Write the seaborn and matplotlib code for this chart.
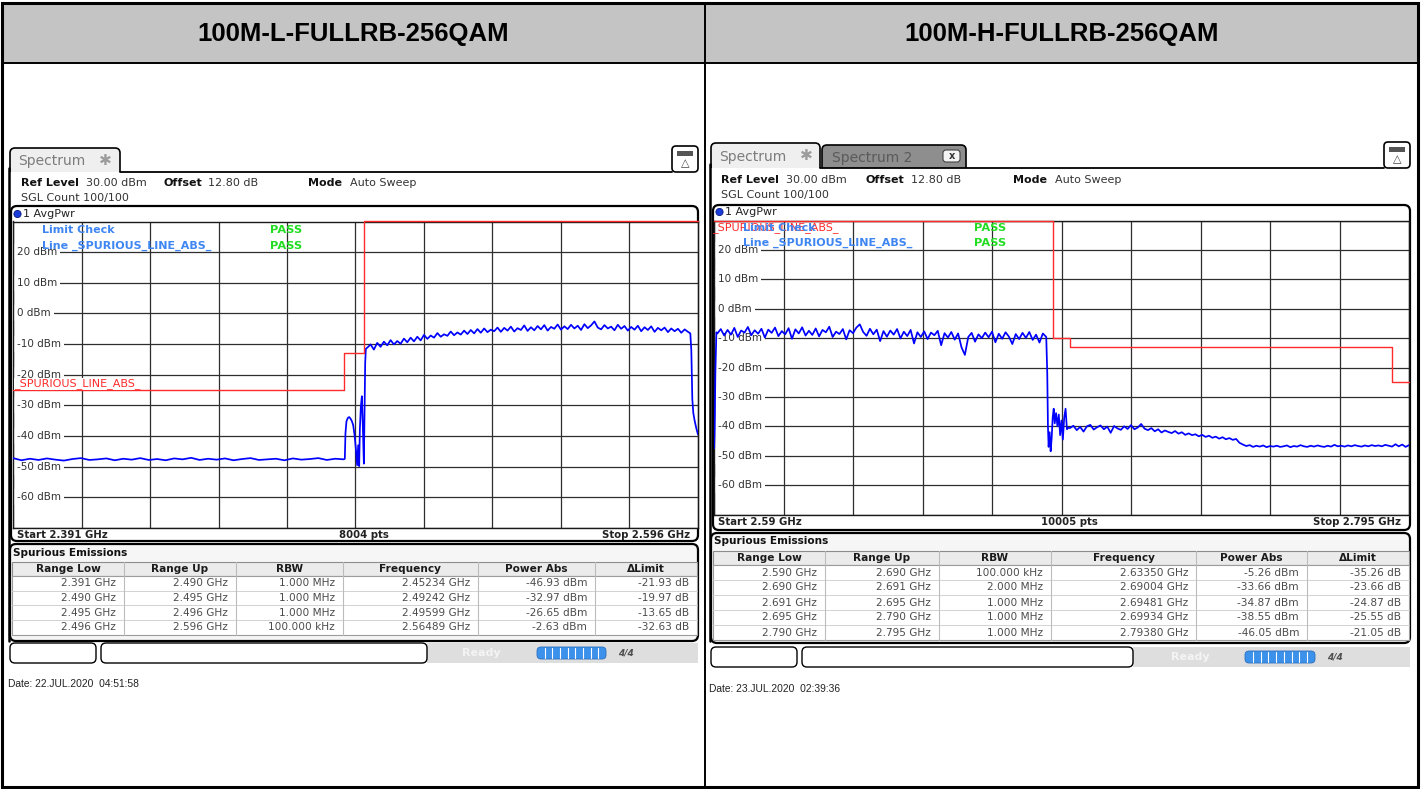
"""
Capturas de analizador de espectro (emisiones espurias, 100M FULLRB 256QAM)
Dos paneles lado a lado dentro de una tabla con cabecera gris.
"""

import matplotlib
matplotlib.use("Agg")

import matplotlib.pyplot as plt
import matplotlib.transforms as mtransforms
import numpy as np
import pandas as pd
import seaborn as sns
from matplotlib.patches import Circle, FancyBboxPatch, Rectangle

# ============================================================
# DATOS
# ============================================================
TITLES = ["100M-L-FULLRB-256QAM", "100M-H-FULLRB-256QAM"]
HEADERS = ["Range Low", "Range Up", "RBW", "Frequency", "Power Abs", "ΔLimit"]

# ---------- panel izquierdo (L) ----------
l_span = (2.391, 2.596)
l_pts = "8004 pts"
l_floor_span = (2.391, 2.490)
l_floor_lvl = [-47.2, -47.9, -47.4, -47.8, -47.3, -47.7, -48.0, -47.5, -47.2, -47.8,
               -47.6, -47.3, -47.9, -47.4, -47.7, -47.2, -47.8, -47.5, -47.9, -47.3,
               -47.6, -47.1, -47.8, -47.4, -47.7, -47.3, -47.9, -47.5, -47.2, -47.8,
               -47.6, -47.4, -47.9, -47.3, -47.7, -47.5, -47.2, -47.8, -47.4, -47.6]
l_edge_f = [2.4903, 2.4905, 2.4908, 2.4912, 2.4916, 2.4920, 2.4924, 2.4928, 2.4932, 2.4936,
            2.4940, 2.4943, 2.4946, 2.4948, 2.4951, 2.4954, 2.4957, 2.4960, 2.4962, 2.4964, 2.4966]
l_edge_lvl = [-47.4, -39.0, -35.2, -34.1, -33.8, -34.3, -35.1, -36.4, -39.5, -44.0,
              -49.5, -43.0, -49.8, -38.0, -30.5, -27.0, -37.0, -49.0, -33.0, -16.0, -11.5]
l_band_span = (2.497, 2.593)
l_band_lvl = [-11.2, -10.1, -11.8, -9.6, -10.9, -9.2, -10.4, -8.7, -10.1, -9.0,
              -9.9, -8.2, -9.4, -7.9, -9.1, -7.6, -8.8, -7.0, -8.3, -7.2,
              -7.9, -6.4, -7.6, -6.8, -7.3, -5.9, -7.1, -6.2, -6.9, -5.6,
              -6.7, -5.4, -6.5, -5.1, -6.3, -4.9, -6.1, -5.3, -5.8, -4.6,
              -6.0, -4.7, -5.6, -4.3, -5.9, -4.8, -5.4, -3.9, -5.7, -4.5,
              -5.5, -4.1, -5.2, -3.8, -5.6, -4.4, -5.0, -3.6, -5.3, -4.2,
              -5.1, -3.7, -4.9, -4.0, -5.4, -3.5, -4.8, -3.9, -2.6, -4.6,
              -5.2, -3.8, -4.9, -4.3, -5.5, -3.7, -5.0, -4.1, -5.6, -4.4,
              -5.3, -4.0, -5.8, -4.5, -5.4, -4.2, -6.0, -4.7, -5.5, -4.6,
              -6.1, -4.9, -5.8, -5.0, -6.3, -5.2, -6.0]
l_tail_f = [2.5937, 2.5940, 2.5943, 2.5946, 2.5950, 2.5955, 2.5960]
l_tail_lvl = [-6.5, -12.0, -28.0, -32.5, -35.0, -37.5, -39.5]
l_lim_f = [2.391, 2.490, 2.496, 2.596]
l_lim_lvl = [-25, -13, 30, 30]
l_range_low = [2.391, 2.490, 2.495, 2.496]
l_range_up = [2.490, 2.495, 2.496, 2.596]
l_rbw = ["1.000 MHz", "1.000 MHz", "1.000 MHz", "100.000 kHz"]
l_peak_f = [2.45234, 2.49242, 2.49599, 2.56489]
l_power = [-46.93, -32.97, -26.65, -2.63]
l_delta = [-21.93, -19.97, -13.65, -32.63]
l_date = "Date: 22.JUL.2020  04:51:58"

# ---------- panel derecho (H) ----------
r_span = (2.590, 2.795)
r_pts = "10005 pts"
r_head_f = [2.5900, 2.5902, 2.5904, 2.5907]
r_head_lvl = [-47.5, -41.0, -22.0, -8.0]
r_band_span = (2.591, 2.688)
r_band_lvl = [-8.4, -6.9, -9.1, -7.2, -8.8, -6.5, -9.6, -7.4, -8.1, -6.2,
              -9.0, -7.3, -8.5, -6.8, -9.8, -7.1, -8.2, -6.4, -9.3, -7.6,
              -8.7, -6.6, -10.2, -7.0, -8.4, -6.3, -9.1, -7.5, -8.9, -6.7,
              -9.4, -7.2, -8.0, -6.1, -9.6, -7.8, -8.6, -6.9, -10.4, -7.3,
              -8.3, -6.4, -5.3, -7.9, -9.2, -6.8, -8.7, -7.1, -11.0, -7.6,
              -9.5, -7.4, -8.8, -6.9, -10.1, -7.8, -9.3, -7.2, -11.8, -8.0,
              -9.6, -7.7, -10.3, -8.1, -9.0, -7.5, -12.4, -8.3, -9.8, -7.9,
              -10.5, -8.4, -13.1, -15.7, -9.6, -8.2, -11.2, -8.7, -10.0, -8.1,
              -9.7, -7.8, -11.4, -8.5, -10.2, -8.0, -9.5, -12.0, -8.6, -10.3,
              -8.2, -9.9, -7.9, -10.6, -8.8, -11.5, -8.4, -9.6]
r_drop_f = [2.6883, 2.6885, 2.6887, 2.6890, 2.6893, 2.6896, 2.6899, 2.6902, 2.6905, 2.6909,
            2.6913, 2.6917, 2.6921, 2.6925, 2.6929, 2.6933, 2.6937, 2.6941, 2.6945]
r_drop_lvl = [-22.0, -40.0, -47.0, -42.0, -48.5, -44.0, -37.0, -34.0, -39.0, -35.5,
              -40.0, -36.0, -43.0, -38.0, -44.5, -37.0, -34.0, -41.0, -40.5]
r_slope_span = (2.695, 2.745)
r_slope_lvl = [-40.6, -39.8, -41.3, -40.2, -41.8, -40.0, -39.5, -41.1, -40.3, -39.7,
               -41.0, -40.1, -42.2, -39.9, -40.7, -41.2, -40.0, -40.9, -39.6, -41.0,
               -40.4, -39.2, -40.8, -41.3, -40.6, -41.7, -41.0, -42.1, -41.4, -41.9,
               -42.3, -41.6, -42.5, -42.0, -42.9, -42.4, -43.0, -42.7, -43.4, -42.9,
               -43.6, -43.2, -43.9, -43.5, -44.2, -43.7, -44.4, -44.0, -44.6, -44.3,
               -45.6]
r_floor_span = (2.746, 2.795)
r_floor_lvl = [-46.2, -46.7, -46.4, -47.0, -46.6, -46.9, -46.5, -47.1, -46.7, -46.9,
               -46.6, -47.0, -46.8, -46.5, -47.1, -46.7, -46.9, -46.4, -46.8, -47.0,
               -46.6, -46.9, -46.5, -46.8, -47.0, -46.6, -46.9, -46.3, -46.8, -46.6,
               -46.9, -46.5, -46.8, -46.4, -46.7, -46.9, -46.5, -46.8, -46.4, -46.7,
               -46.5, -46.8, -46.3, -46.6, -46.9, -46.1, -46.8, -46.2, -47.0, -46.4]
r_lim_f = [2.590, 2.690, 2.695, 2.790, 2.795]
r_lim_lvl = [30, -10, -13, -25, -25]
r_range_low = [2.590, 2.690, 2.691, 2.695, 2.790]
r_range_up = [2.690, 2.691, 2.695, 2.790, 2.795]
r_rbw = ["100.000 kHz", "2.000 MHz", "1.000 MHz", "1.000 MHz", "1.000 MHz"]
r_peak_f = [2.63350, 2.69004, 2.69481, 2.69934, 2.79380]
r_power = [-5.26, -33.66, -34.87, -38.55, -46.05]
r_delta = [-35.26, -23.66, -24.87, -25.55, -21.05]
r_date = "Date: 23.JUL.2020  02:39:36"

# ============================================================
# CONFIGURACIÓN
# ============================================================
W, H = 1421, 789
sns.set_style("white")
plt.rcParams["font.family"] = ["DejaVu Sans"]

BLUE_TXT = "#3f86f2"
GREEN_TXT = "#22dd22"
RED = "#ff2b2b"

# Posiciones (en píxeles) de cada panel
LAYOUT = [
    dict(title_x=353, win_x0=9, tab=(10, 148, 120, 172), tab2=None, icon=(672, 146, 698, 172),
         info_y=183, sgl_y=198, info_x=[21, 86, 163, 208, 308, 350],
         frame=(11, 206, 698, 541), avg_y=214, grid=(13, 221.5, 698, 528), start_y=535,
         table=(10, 544, 698, 641), table_title_y=553, head_y=569, row_dy=14.7,
         cols=[12, 124, 236, 343, 478, 595, 697],
         status=(643, 663), box1=(10, 96), box2=(101, 427), ready_x=481, bar=(537, 606),
         mini_x=626, date=(8, 684), win_x1=698,
         lim_y=(230, 246), lim_x=42, pass_x=270, red_lbl=(14, 384)),
    dict(title_x=1062, win_x0=710, tab=(711, 143, 820, 168), tab2=(822, 145, 966, 168),
         icon=(1384, 142, 1410, 168),
         info_y=180, sgl_y=195, info_x=[721, 786, 865, 911, 1013, 1055],
         frame=(713, 205, 1410, 530), avg_y=212, grid=(714, 220.6, 1409, 514.5), start_y=522,
         table=(711, 533, 1410, 643), table_title_y=541, head_y=558, row_dy=15,
         cols=[713, 825, 939, 1051, 1196, 1307, 1409],
         status=(647, 667), box1=(711, 797), box2=(802, 1133), ready_x=1190, bar=(1245, 1315),
         mini_x=1335, date=(709, 689), win_x1=1410,
         lim_y=(228, 243), lim_x=743, pass_x=974, red_lbl=(712, 228)),
]


def rbox(ax, x0, y0, x1, y1, r=5, ec="black", fc="none", lw=1.0, z=1):
    """Rectángulo redondeado en coordenadas de píxel."""
    ax.add_patch(FancyBboxPatch((x0, y0), x1 - x0, y1 - y0,
                                boxstyle=f"round,pad=0,rounding_size={r}",
                                ec=ec, fc=fc, lw=lw, zorder=z))


def build_trace(parts):
    """Concatena tramos (frecuencias, niveles) en un DataFrame."""
    freqs, lvls = [], []
    for f, v in parts:
        freqs.extend(list(f))
        lvls.extend(list(v))
    return pd.DataFrame({"freq": freqs, "dbm": lvls})


def sweep(span, lvls):
    # puntos de barrido equiespaciados del analizador
    return np.linspace(span[0], span[1], len(lvls)), lvls


fig = plt.figure(figsize=(W / 100, H / 100), dpi=100)
bg = fig.add_axes([0, 0, 1, 1])
bg.set_xlim(0, W)
bg.set_ylim(H, 0)
bg.axis("off")
bg.set_zorder(0)

top = fig.add_axes([0, 0, 1, 1])
top.set_xlim(0, W)
top.set_ylim(H, 0)
top.axis("off")
top.set_zorder(3)
top.patch.set_alpha(0)

# Tabla exterior y cabecera
bg.add_patch(Rectangle((2, 3), 1416, 60, fc="#c4c4c4", ec="none", zorder=0.5))
bg.add_patch(Rectangle((2, 3), 1416, 784, fc="none", ec="black", lw=2.2, zorder=5))
bg.plot([2, 1418], [63, 63], color="black", lw=1.4, zorder=5)
bg.plot([705, 705], [3, 787], color="black", lw=1.4, zorder=5)

traces = [
    build_trace([sweep(l_floor_span, l_floor_lvl), (l_edge_f, l_edge_lvl),
                 sweep(l_band_span, l_band_lvl), (l_tail_f, l_tail_lvl)]),
    build_trace([(r_head_f, r_head_lvl), sweep(r_band_span, r_band_lvl), (r_drop_f, r_drop_lvl),
                 sweep(r_slope_span, r_slope_lvl), sweep(r_floor_span, r_floor_lvl)]),
]
limits = [pd.DataFrame({"freq": l_lim_f, "dbm": l_lim_lvl}),
          pd.DataFrame({"freq": r_lim_f, "dbm": r_lim_lvl})]
spans = [l_span, r_span]
pts = [l_pts, r_pts]
tables = [
    [[f"{v:.3f} GHz" for v in l_range_low], [f"{v:.3f} GHz" for v in l_range_up], l_rbw,
     [f"{v:.5f} GHz" for v in l_peak_f], [f"{v:.2f} dBm" for v in l_power], [f"{v:.2f} dB" for v in l_delta]],
    [[f"{v:.3f} GHz" for v in r_range_low], [f"{v:.3f} GHz" for v in r_range_up], r_rbw,
     [f"{v:.5f} GHz" for v in r_peak_f], [f"{v:.2f} dBm" for v in r_power], [f"{v:.2f} dB" for v in r_delta]],
]
dates = [l_date, r_date]

for k, p in enumerate(LAYOUT):
    # ---------- título de columna ----------
    bg.text(p["title_x"], 34, TITLES[k], ha="center", va="center", fontsize=18.5,
            fontweight="bold", family="Liberation Sans", color="black", zorder=6)

    # ---------- pestañas y ventana ----------
    tx0, ty0, tx1, ty1 = p["tab"]
    if p["tab2"] is not None:
        sx0, sy0, sx1, sy1 = p["tab2"]
        rbox(bg, sx0, sy0, sx1, sy1 + 8, r=5, fc="#8e8e8e", lw=1.2, z=1)
        bg.text(sx0 + 10, (sy0 + sy1) / 2 + 1, "Spectrum 2", fontsize=10, color="#5a5a5a",
                va="center", zorder=2)
        rbox(bg, sx1 - 23, sy0 + 5, sx1 - 6, sy1 - 6, r=3, fc="#f4f4f4", ec="#444444", lw=0.8, z=2)
        bg.text(sx1 - 14.5, (sy0 + sy1) / 2 - 0.5, "x", fontsize=7, ha="center", va="center",
                color="#333333", fontweight="bold", zorder=3)
    rbox(bg, tx0, ty0, tx1, ty1 + 8, r=5, fc="#efefef", lw=1.2, z=1.2)
    bg.add_patch(Rectangle((p["win_x0"] + 1, ty1), p["win_x1"] - p["win_x0"] - 1, 641 - ty1,
                           fc="white", ec="none", zorder=1.3))
    bg.plot([tx1, p["icon"][0]], [ty1, ty1], color="black", lw=1.3, zorder=1.4)
    bg.plot([p["win_x0"], p["win_x0"]], [ty1 - 4, 641], color="black", lw=1.8, zorder=1.4)
    bg.text(tx0 + 8, (ty0 + ty1) / 2 + 1, "Spectrum", fontsize=10, color="#7c7c7c", va="center", zorder=2)
    bg.text(tx0 + 95, (ty0 + ty1) / 2, "✱", fontsize=11, color="#9c9c9c", va="center",
            ha="center", zorder=2)
    ix0, iy0, ix1, iy1 = p["icon"]
    rbox(bg, ix0, iy0, ix1, iy1, r=4, fc="white", lw=1.2, z=2)
    bg.add_patch(Rectangle((ix0 + 5, iy0 + 5), ix1 - ix0 - 10, 5, fc="#555555", ec="none", zorder=2.1))
    bg.text((ix0 + ix1) / 2, iy0 + 17, "△", fontsize=8, ha="center", va="center", color="#444444", zorder=2.1)

    # ---------- línea de ajustes ----------
    xs = p["info_x"]
    y = p["info_y"]
    for x, s, bold in zip(xs, ["Ref Level", "30.00 dBm", "Offset", "12.80 dB", "Mode", "Auto Sweep"],
                          [True, False, True, False, True, False]):
        bg.text(x, y, s, fontsize=8, va="center", fontweight="bold" if bold else "normal",
                color="#111111" if bold else "#333333", zorder=2)
    bg.text(xs[0], p["sgl_y"], "SGL Count 100/100", fontsize=8, va="center", color="#333333", zorder=2)

    # ---------- marco del diagrama ----------
    fx0, fy0, fx1, fy1 = p["frame"]
    rbox(bg, fx0, fy0, fx1, fy1, r=6, fc="white", lw=1.6, z=2)
    bg.add_patch(Circle((fx0 + 6.5, p["avg_y"]), 3.6, fc="#1a3cd8", ec="#0a1a80", lw=0.6, zorder=3))
    bg.text(fx0 + 12, p["avg_y"], "1 AvgPwr", fontsize=8, va="center", color="#222222", zorder=3)
    gx0, gy0, gx1, gy1 = p["grid"]
    f0, f1 = spans[k]
    bg.text(gx0 + 4, p["start_y"], f"Start {f0:g} GHz", fontsize=7.3, fontweight="bold",
            va="center", color="#222222", zorder=3)
    bg.text((gx0 + gx1) / 2 + 8, p["start_y"], pts[k], fontsize=7.3, fontweight="bold",
            va="center", ha="center", color="#222222", zorder=3)
    bg.text(gx1 - 8, p["start_y"], f"Stop {f1:g} GHz", fontsize=7.3, fontweight="bold",
            va="center", ha="right", color="#222222", zorder=3)

    # ---------- diagrama (seaborn) ----------
    ax = fig.add_axes([gx0 / W, 1 - gy1 / H, (gx1 - gx0) / W, (gy1 - gy0) / H])
    ax.set_zorder(1)
    ax.set_facecolor("white")
    sns.lineplot(data=traces[k], x="freq", y="dbm", ax=ax, color="#0000ff", linewidth=1.25,
                 estimator=None, sort=False, zorder=3)
    sns.lineplot(data=limits[k], x="freq", y="dbm", ax=ax, color=RED, linewidth=1.0,
                 estimator=None, sort=False, drawstyle="steps-post", zorder=3.2, clip_on=False)
    ax.set_xlim(f0, f1)
    ax.set_ylim(-70, 30)
    ax.set_xticks(np.linspace(f0, f1, 11))
    ax.set_yticks(np.arange(-70, 31, 10))
    ax.grid(True, color="#2e2e2e", linewidth=0.9)
    ax.tick_params(length=0, labelbottom=False, labelleft=False)
    ax.set_xlabel("")
    ax.set_ylabel("")
    for s in ax.spines.values():
        s.set_color("#1a1a1a")
        s.set_linewidth(1.0)
    trans = mtransforms.blended_transform_factory(ax.transAxes, ax.transData)
    for lvl in range(20, -61, -10):
        ax.text(4 / (gx1 - gx0), lvl, f"{lvl} dBm", transform=trans, fontsize=7.5, va="center",
                ha="left", color="#333333", zorder=2,
                bbox=dict(fc="white", ec="none", pad=2.2))

    # ---------- textos de comprobación de límite ----------
    ly1, ly2 = p["lim_y"]
    rx, ry = p["red_lbl"]
    top.text(rx, ry, "_SPURIOUS_LINE_ABS_", fontsize=8, color=RED, va="center", zorder=4,
             bbox=dict(fc="white", ec="none", pad=0.3) if k == 0 else None)
    top.text(p["lim_x"], ly1, "Limit Check", fontsize=8, color=BLUE_TXT, va="center",
             fontweight="bold", zorder=5)
    top.text(p["lim_x"], ly2, "Line _SPURIOUS_LINE_ABS_", fontsize=8, color=BLUE_TXT, va="center",
             fontweight="bold", zorder=5)
    for yy in (ly1, ly2):
        top.text(p["pass_x"], yy, "PASS", fontsize=8.2, color=GREEN_TXT, va="center",
                 fontweight="bold", zorder=5)

    # ---------- tabla de emisiones espurias ----------
    bx0, by0, bx1, by1 = p["table"]
    rbox(bg, bx0, by0, bx1, by1, r=6, fc="#f6f6f6", lw=1.6, z=2)
    bg.text(bx0 + 3, p["table_title_y"], "Spurious Emissions", fontsize=7.6, fontweight="bold",
            va="center", color="#111111", zorder=3)
    cols = p["cols"]
    hy = p["head_y"]
    dy = p["row_dy"]
    cells = tables[k]
    n = len(cells[0])
    bg.add_patch(Rectangle((cols[0], hy - 7), cols[-1] - cols[0], 14, fc="#ebebeb", ec="#8c8c8c",
                           lw=0.8, zorder=3))
    r0 = hy + 7
    bg.add_patch(Rectangle((cols[0], r0), cols[-1] - cols[0], n * dy, fc="white", ec="#9c9c9c",
                           lw=0.8, zorder=3))
    for i in range(1, n):
        bg.plot([cols[0], cols[-1]], [r0 + i * dy] * 2, color="#d2d2d2", lw=0.7, zorder=3.1)
    for c in cols[1:-1]:
        bg.plot([c, c], [hy - 7, r0 + n * dy], color="#bcbcbc", lw=0.8, zorder=3.1)
    for j, head in enumerate(HEADERS):
        bg.text((cols[j] + cols[j + 1]) / 2, hy, head, ha="center", va="center", fontsize=7.6,
                fontweight="bold", color="#1a1a1a", zorder=4)
        for i, s in enumerate(cells[j]):
            bg.text(cols[j + 1] - 8, r0 + (i + 0.5) * dy, s, ha="right", va="center", fontsize=7.6,
                    color="#4c4c4c", zorder=4)

    # ---------- barra de estado ----------
    sy0, sy1 = p["status"]
    bg.add_patch(Rectangle((p["box2"][1], sy0), p["win_x1"] - p["box2"][1], sy1 - sy0,
                           fc="#dedede", ec="none", zorder=1.5))
    rbox(bg, p["box1"][0], sy0, p["box1"][1], sy1, r=5, fc="white", lw=1.0, z=2)
    rbox(bg, p["box2"][0], sy0, p["box2"][1], sy1, r=5, fc="white", lw=1.0, z=2)
    bg.text(p["ready_x"], (sy0 + sy1) / 2, "Ready", fontsize=8, fontweight="bold", color="#f4f4f4",
            ha="center", va="center", zorder=2)
    ba0, ba1 = p["bar"]
    rbox(bg, ba0, sy0 + 4, ba1, sy1 - 4, r=4, fc="#3c92ea", ec="#2a6fc0", lw=0.6, z=2)
    for xx in np.linspace(ba0, ba1, 10)[1:-1]:
        bg.plot([xx, xx], [sy0 + 5, sy1 - 5], color="white", lw=0.8, zorder=2.1)
    bg.text(p["mini_x"], (sy0 + sy1) / 2, "4/4", fontsize=6.5, fontweight="bold", fontstyle="italic",
            color="#505050", ha="center", va="center", zorder=2)

    # ---------- fecha ----------
    dx, dyy = p["date"]
    bg.text(dx, dyy, dates[k], fontsize=7.4, family="Liberation Sans", va="center",
            color="#222222", zorder=2)

fig.savefig("out.png", dpi=100)
plt.close(fig)
